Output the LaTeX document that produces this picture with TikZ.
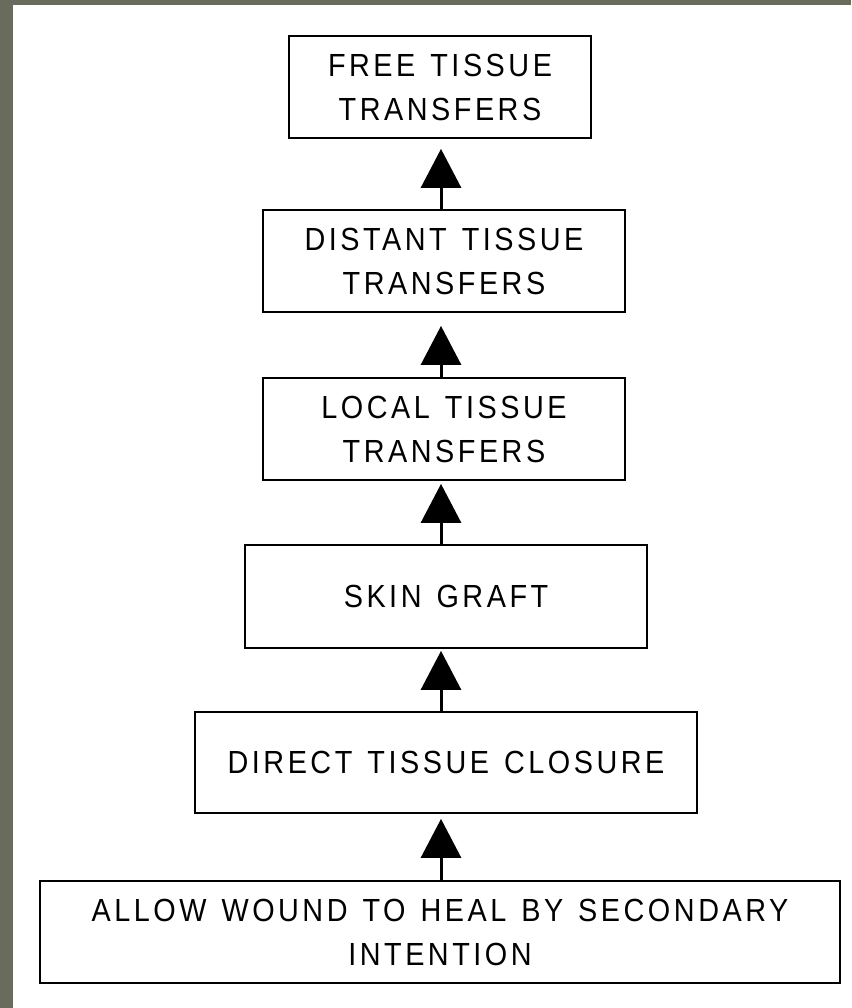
\documentclass[tikz,border=0pt]{standalone}
\usepackage{fontspec}
\setmainfont{Liberation Sans}[FakeStretch=0.9, LetterSpace=11, WordSpace=1.3]
\usetikzlibrary{arrows.meta}
\definecolor{frame}{HTML}{696B5D}
\begin{document}
\begin{tikzpicture}[x=1pt,y=-1pt,
  stepbox/.style={draw=black, line width=1.8pt, align=center, inner sep=0pt,
    font=\fontsize{32}{44}\selectfont},
  uparrow/.style={line width=3pt, -{Triangle[length=39pt,width=40pt]}}]
\useasboundingbox (0,0) rectangle (851,1008);
\fill[frame] (0,0) rectangle (851,1008);
\fill[white] (13,5) rectangle (851,1008);

\node[stepbox, minimum width=302pt, minimum height=102pt] (b1) at (440,87) {FREE TISSUE\\TRANSFERS};
\node[stepbox, minimum width=362pt, minimum height=102pt] (b2) at (444,261) {DISTANT TISSUE\\TRANSFERS};
\node[stepbox, minimum width=362pt, minimum height=102pt] (b3) at (444,429) {LOCAL TISSUE\\TRANSFERS};
\node[stepbox, minimum width=402pt, minimum height=103pt] (b4) at (446,596.5) {SKIN GRAFT};
\node[stepbox, minimum width=502pt, minimum height=101pt] (b5) at (446,762.5) {DIRECT TISSUE CLOSURE};
\node[stepbox, minimum width=800pt, minimum height=102pt] (b6) at (440,932) {ALLOW WOUND TO HEAL BY SECONDARY\\INTENTION};

\coordinate (ax) at (441,0);
\draw[uparrow, shorten >=10pt] (ax |- b2.north) -- (ax |- b1.south);
\draw[uparrow, shorten >=13pt] (ax |- b3.north) -- (ax |- b2.south);
\draw[uparrow, shorten >=3pt] (ax |- b4.north) -- (ax |- b3.south);
\draw[uparrow, shorten >=2pt] (ax |- b5.north) -- (ax |- b4.south);
\draw[uparrow, shorten >=5pt] (ax |- b6.north) -- (ax |- b5.south);
\end{tikzpicture}
\end{document}
